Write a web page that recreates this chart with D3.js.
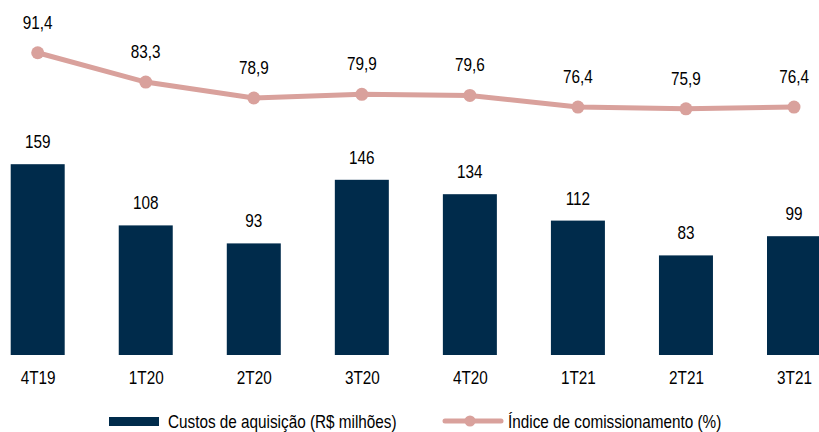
<!DOCTYPE html>
<html>
<head>
<meta charset="utf-8">
<script src="https://cdn.jsdelivr.net/npm/d3@7"></script>
<style>
  html, body { margin: 0; padding: 0; background: #fff; }
  svg { display: block; font-family: "Liberation Sans", Arial, sans-serif; }
</style>
</head>
<body>
<svg id="chart" width="819" height="432"></svg>
<script>
const periods = ["4T19", "1T20", "2T20", "3T20", "4T20", "1T21", "2T21", "3T21"];
const custos = [159, 108, 93, 146, 134, 112, 83, 99];
const comissionamento = [91.4, 83.3, 78.9, 79.9, 79.6, 76.4, 75.9, 76.4];
const barLabel = "Custos de aquisição (R$ milhões)";
const lineLabel = "Índice de comissionamento (%)";

const navy = "#002b4b";
const rose = "#d9a19c";
const fontSize = 18;
const narrow = 0.85; // horizontal squeeze for a condensed look
const fmt = v => String(v).replace(".", ",");

const svg = d3.select("#chart");

const x = d3.scalePoint().domain(periods).range([37.7, 794]);
const yBar = d3.scaleLinear().domain([0, 160]).range([355, 163]);
const yLine = d3.scaleLinear().domain([70, 95]).range([130.2, 39.7]);
const barW = 54;

// condensed text helper
function label(g, tx, ty, str, anchor) {
  return g.append("text")
    .attr("transform", `translate(${tx},${ty}) scale(${narrow},1)`)
    .attr("text-anchor", anchor || "middle")
    .attr("font-size", fontSize)
    .attr("fill", "#000")
    .text(str);
}

// bars
svg.append("g").selectAll("rect")
  .data(periods)
  .join("rect")
  .attr("x", d => x(d) - barW / 2)
  .attr("y", (d, i) => yBar(custos[i]))
  .attr("width", barW)
  .attr("height", (d, i) => yBar(0) - yBar(custos[i]))
  .attr("fill", navy);

// bar value labels
const gBarLabels = svg.append("g");
periods.forEach((d, i) => label(gBarLabels, x(d), yBar(custos[i]) - 16, custos[i]));

// x axis labels
const xAxis = d3.axisBottom(x).tickSize(0).tickPadding(0);
const gx = svg.append("g").attr("transform", "translate(0,371)").call(xAxis);
gx.select(".domain").remove();
gx.selectAll("text")
  .attr("font-size", fontSize)
  .attr("font-family", null)
  .attr("fill", "#000")
  .attr("dy", "0.71em")
  .attr("transform", `scale(${narrow},1)`);

// commission line
const line = d3.line().x(d => x(d)).y((d, i) => yLine(comissionamento[i]));
svg.append("path")
  .datum(periods)
  .attr("d", line)
  .attr("fill", "none")
  .attr("stroke", rose)
  .attr("stroke-width", 5);

svg.append("g").selectAll("circle")
  .data(periods)
  .join("circle")
  .attr("cx", d => x(d))
  .attr("cy", (d, i) => yLine(comissionamento[i]))
  .attr("r", 6.5)
  .attr("fill", rose);

const gLineLabels = svg.append("g");
periods.forEach((d, i) => label(gLineLabels, x(d), yLine(comissionamento[i]) - 24, fmt(comissionamento[i])));

// legend
const lg = svg.append("g");
lg.append("rect").attr("x", 109).attr("y", 417).attr("width", 50).attr("height", 9).attr("fill", navy);
label(lg, 168, 428, barLabel, "start");
lg.append("line").attr("x1", 445).attr("x2", 501).attr("y1", 421).attr("y2", 421)
  .attr("stroke", rose).attr("stroke-width", 5).attr("stroke-linecap", "round");
lg.append("circle").attr("cx", 470).attr("cy", 421).attr("r", 5.5).attr("fill", rose);
label(lg, 508, 428, lineLabel, "start");
</script>
</body>
</html>
